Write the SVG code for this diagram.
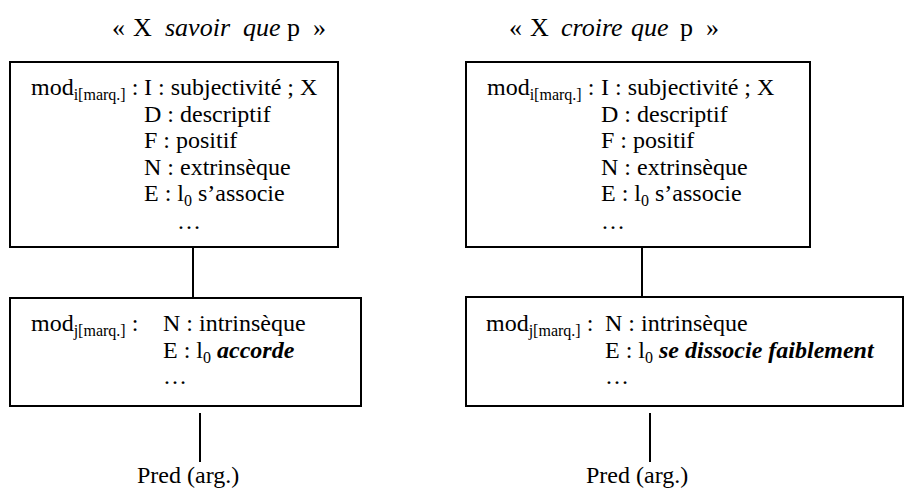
<svg xmlns="http://www.w3.org/2000/svg" width="906" height="489" viewBox="0 0 906 489" font-family="'Liberation Serif', 'DejaVu Serif', serif">
<style>
text { font-family: "Liberation Serif", "DejaVu Serif", serif; fill: #000; }
.t { font-size: 26px; }
.b { font-size: 24px; }
.s { font-size: 16px; }
.i { font-style: italic; }
.bi { font-style: italic; font-weight: bold; }
.box { fill: #fff; stroke: #000; stroke-width: 2; }
.ln { stroke: #000; stroke-width: 2; fill: none; }
</style>
<rect width="906" height="489" fill="#fff"/>

<g id="title-savoir">
<text class="t" x="112" y="36">«</text>
<text class="t" x="133" y="36">X</text>
<text class="t i" x="165" y="36">savoir</text>
<text class="t i" x="243" y="36">que</text>
<text class="t" x="287" y="36">p</text>
<text class="t" x="313" y="36">»</text>
</g>

<g id="title-croire">
<text class="t" x="509" y="36">«</text>
<text class="t" x="530" y="36">X</text>
<text class="t i" x="561" y="36">croire</text>
<text class="t i" x="631" y="36">que</text>
<text class="t" x="680" y="36">p</text>
<text class="t" x="706" y="36">»</text>
</g>

<g id="connectors">
<line class="ln" x1="193" y1="248" x2="193" y2="297"/>
<line class="ln" x1="200" y1="413" x2="200" y2="462"/>
<line class="ln" x1="642" y1="248" x2="642" y2="296"/>
<line class="ln" x1="650" y1="413" x2="650" y2="462"/>
</g>

<g id="mod-i-savoir">
<rect class="box" x="10" y="62" width="328" height="185"/>
<text class="b" x="31" y="95">mod<tspan class="s" dy="5">i[marq.]</tspan><tspan dy="-5"> :</tspan></text>
<text class="b" x="144" y="95">I : subjectivité ; X</text>
<text class="b" x="144" y="121.6">D : descriptif</text>
<text class="b" x="144" y="148.2">F : positif</text>
<text class="b" x="144" y="174.8">N : extrinsèque</text>
<text class="b" x="144" y="201.4">E : l<tspan class="s" dy="5">0</tspan><tspan dy="-5"> s’associe</tspan></text>
<text class="b" x="177" y="229">…</text>
</g>

<g id="mod-i-croire">
<rect class="box" x="466" y="62" width="344" height="185"/>
<text class="b" x="487" y="95">mod<tspan class="s" dy="5">i[marq.]</tspan><tspan dy="-5"> :</tspan></text>
<text class="b" x="601" y="95">I : subjectivité ; X</text>
<text class="b" x="601" y="121.6">D : descriptif</text>
<text class="b" x="601" y="148.2">F : positif</text>
<text class="b" x="601" y="174.8">N : extrinsèque</text>
<text class="b" x="601" y="201.4">E : l<tspan class="s" dy="5">0</tspan><tspan dy="-5"> s’associe</tspan></text>
<text class="b" x="601" y="229">…</text>
</g>

<g id="mod-j-savoir">
<rect class="box" x="10" y="298" width="351" height="108"/>
<text class="b" x="31" y="331">mod<tspan class="s" dy="5">j[marq.]</tspan><tspan dy="-5"> :</tspan></text>
<text class="b" x="163" y="331">N : intrinsèque</text>
<text class="b" x="163" y="357.6">E : l<tspan class="s" dy="5">0</tspan><tspan dy="-5"> </tspan><tspan class="bi">accorde</tspan></text>
<text class="b" x="163" y="384">…</text>
</g>

<g id="mod-j-croire">
<rect class="box" x="466" y="297" width="437" height="109"/>
<text class="b" x="486" y="331">mod<tspan class="s" dy="5">j[marq.]</tspan><tspan dy="-5"> :</tspan></text>
<text class="b" x="605" y="331">N : intrinsèque</text>
<text class="b" x="605" y="357.6">E : l<tspan class="s" dy="5">0</tspan><tspan dy="-5"> </tspan><tspan class="bi">se dissocie faiblement</tspan></text>
<text class="b" x="605" y="384">…</text>
</g>

<g id="pred-savoir">
<text class="b" x="137" y="483">Pred (arg.)</text>
</g>

<g id="pred-croire">
<text class="b" x="586" y="483">Pred (arg.)</text>
</g>
</svg>
